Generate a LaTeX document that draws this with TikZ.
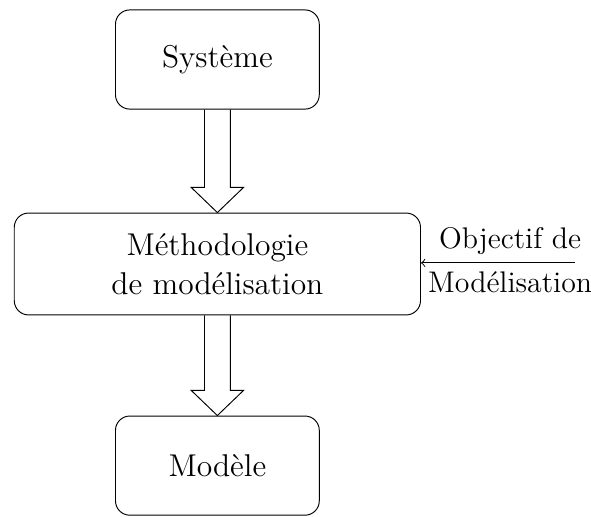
\documentclass[tikz,border=0pt]{standalone}
\usepackage{tikz}
\usetikzlibrary{arrows}
\usetikzlibrary{calc}

\begin{document}
\begin{tikzpicture}[bloc/.style={draw,rounded corners=6pt,minimum width=3cm,minimum height=1.46cm,font=\fontsize{13.2}{16.5}\selectfont,align=center},
      texte/.style={font=\fontsize{12.5}{15}\selectfont}]
      \useasboundingbox (0,0) rectangle (8.7,-7.596);
      \node[bloc] (sys) at (3.2,-0.876) {Syst\`eme};
      \node[bloc,minimum width=5.98cm,minimum height=1.5cm] (meth) at (3.2,-3.886) {M\'ethodologie\\de mod\'elisation};
      \node[bloc] (mod) at (3.2,-6.854) {Mod\`ele};
      \coordinate (obj) at (8.46,-3.87);
      % fleches creuses
      \draw ($(sys.south)+(-0.19,0)$) -- ($(meth.north)+(-0.19,0.37)$) -- ($(meth.north)+(-0.385,0.37)$) -- (meth.north) -- ($(meth.north)+(0.385,0.37)$) -- ($(meth.north)+(0.19,0.37)$) -- ($(sys.south)+(0.19,0)$);
      \draw ($(meth.south)+(-0.19,0)$) -- ($(mod.north)+(-0.19,0.37)$) -- ($(mod.north)+(-0.385,0.37)$) -- (mod.north) -- ($(mod.north)+(0.385,0.37)$) -- ($(mod.north)+(0.19,0.37)$) -- ($(meth.south)+(0.19,0)$);
      \draw[->,>=to] (obj) -- (meth.east |- obj) node[pos=0.42,above,texte] {Objectif de} node[pos=0.42,below,texte] {Mod\'elisation};
\end{tikzpicture}
\end{document}
